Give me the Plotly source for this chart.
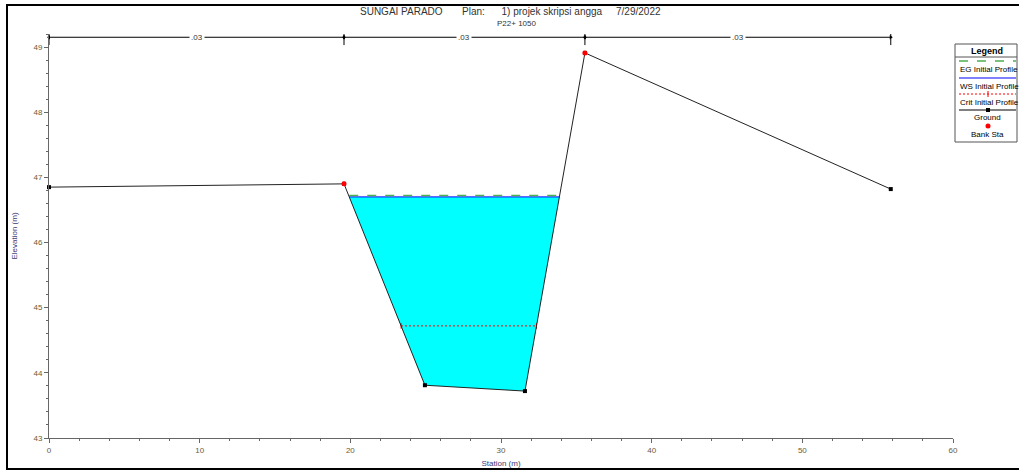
import plotly.graph_objects as go

# ---- data ----
ground_sta = [0.0, 19.58, 24.95, 31.59, 35.57, 55.87]
ground_elev = [46.85, 46.90, 43.81, 43.72, 48.91, 46.82]
bank_sta = [19.58, 35.57]
bank_elev = [46.90, 48.91]
ws_elev = 46.70
eg_elev = 46.72
crit_elev = 44.72
n_bounds = [0.0, 19.58, 35.57, 55.87]
n_values = [".03", ".03", ".03"]
x_ticks = [0, 10, 20, 30, 40, 50, 60]
y_ticks = [43, 44, 45, 46, 47, 48, 49]

W, H = 1019, 471
ML, MR, MT, MB = 49, 66, 34, 33
XR = [0, 60]
YR = [43, 49.2]


def crossings(level):
    """Intersections of a horizontal level with the ground line."""
    pts = []
    for i in range(len(ground_sta) - 1):
        x0, y0, x1, y1 = ground_sta[i], ground_elev[i], ground_sta[i + 1], ground_elev[i + 1]
        if (y0 - level) * (y1 - level) < 0:
            t = (level - y0) / (y1 - y0)
            pts.append((i, x0 + t * (x1 - x0)))
    return pts


ws_x = crossings(ws_elev)
left_i, left_x = ws_x[0]
right_i, right_x = ws_x[-1]
poly_x = [left_x] + ground_sta[left_i + 1:right_i + 1] + [right_x, left_x]
poly_y = [ws_elev] + ground_elev[left_i + 1:right_i + 1] + [ws_elev, ws_elev]

cr = crossings(crit_elev)
crit_x = [cr[0][1], cr[-1][1]]

fig = go.Figure()

# water fill
fig.add_trace(go.Scatter(x=poly_x, y=poly_y, fill="toself", fillcolor="#00FFFF",
                         mode="lines", line=dict(width=0, color="#00FFFF"),
                         hoverinfo="skip", showlegend=False))
# crit
fig.add_trace(go.Scatter(x=crit_x, y=[crit_elev, crit_elev], mode="lines+markers",
                         line=dict(color="#FF0000", width=1, dash="2px,2px"),
                         marker=dict(symbol="line-ns", size=4, color="#FF0000",
                                     line=dict(color="#FF0000", width=1)),
                         showlegend=False))
# WS
fig.add_trace(go.Scatter(x=[left_x, right_x], y=[ws_elev, ws_elev], mode="lines",
                         line=dict(color="#0000FF", width=1), showlegend=False))
# EG
fig.add_trace(go.Scatter(x=[left_x, right_x], y=[eg_elev, eg_elev], mode="lines",
                         line=dict(color="#4CAF50", width=1.5, dash="dash"), showlegend=False))
# ground
fig.add_trace(go.Scatter(x=ground_sta, y=ground_elev, mode="lines+markers",
                         line=dict(color="#222222", width=1),
                         marker=dict(symbol="square", size=4, color="black"),
                         cliponaxis=False, showlegend=False))
# bank stations
fig.add_trace(go.Scatter(x=bank_sta, y=bank_elev, mode="markers",
                         marker=dict(symbol="circle", size=5, color="#FF0000"),
                         cliponaxis=False, showlegend=False))

# Manning's n segments
n_y = 49.15
shapes = []
annotations = []
for i in range(len(n_values)):
    a, b = n_bounds[i], n_bounds[i + 1]
    fig.add_trace(go.Scatter(x=[a, b], y=[n_y, n_y], mode="lines+markers",
                             line=dict(color="black", width=1),
                             marker=dict(symbol=["triangle-left", "triangle-right"], size=4, color="black",
                                         line=dict(width=0)),
                             cliponaxis=False, showlegend=False))
    annotations.append(dict(x=(a + b) / 2, y=n_y, xref="x", yref="y", text=n_values[i],
                            xanchor="center", yanchor="middle",
                            showarrow=False, bgcolor="white", font=dict(size=8, color="#333333"),
                            borderpad=1))
for b in n_bounds:
    shapes.append(dict(type="line", xref="x", yref="y", x0=b, x1=b, y0=n_y - 0.12, y1=n_y + 0.12,
                       line=dict(color="black", width=1)))


def px(xp):
    return (xp - ML) / (W - ML - MR)


def py(yp):
    return (H - MB - yp) / (H - MT - MB)


def note(x, y, text, size=8, xanchor="center", color="black"):
    annotations.append(dict(x=px(x), y=py(y), xref="paper", yref="paper", text=text,
                            xanchor=xanchor, yanchor="middle", showarrow=False,
                            font=dict(size=size, color=color)))


# frame
shapes.append(dict(type="rect", xref="paper", yref="paper", x0=px(7), x1=px(1030), y0=py(469), y1=py(5),
                   line=dict(color="black", width=2), layer="below"))

# legend box
lx0, lx1 = 955, 1017
lc = (lx0 + lx1) / 2
shapes.append(dict(type="rect", xref="paper", yref="paper", x0=px(lx0), x1=px(lx1), y0=py(142), y1=py(44),
                   line=dict(color="#555555", width=1), fillcolor="white"))
shapes.append(dict(type="line", xref="paper", yref="paper", x0=px(lx0), x1=px(lx1), y0=py(57), y1=py(57),
                   line=dict(color="#555555", width=1)))
note(lc + 1, 50.5, "<b>Legend</b>", size=9)
leg_items = [
    (61, "EG Initial Profile", dict(color="#4CAF50", width=1.5, dash="dash"), 70),
    (78, "WS Initial Profile", dict(color="#0000FF", width=1), 86),
    (94, "Crit Initial Profile", dict(color="#FF0000", width=1, dash="2px,2px"), 102),
    (110, "Ground", dict(color="black", width=1), 118),
]
for ly, txt, ln, ty in leg_items:
    shapes.append(dict(type="line", xref="paper", yref="paper", x0=px(lx0 + 4), x1=px(lx1 - 1),
                       y0=py(ly), y1=py(ly), line=ln))
    if txt == "Ground":
        note(lc + 2, ty, txt)
    else:
        note(lx0 + 3, ty, txt, xanchor="left")
# legend markers
shapes.append(dict(type="line", xref="paper", yref="paper", x0=px(988), x1=px(988), y0=py(91), y1=py(97),
                   line=dict(color="#FF0000", width=1)))
shapes.append(dict(type="rect", xref="paper", yref="paper", x0=px(986), x1=px(990), y0=py(112), y1=py(108),
                   fillcolor="black", line=dict(color="black", width=0)))
shapes.append(dict(type="circle", xref="paper", yref="paper", x0=px(985.5), x1=px(990.5), y0=py(128.5), y1=py(123.5),
                   fillcolor="#FF0000", line=dict(color="#FF0000", width=0)))
note(lc + 2, 134, "Bank Sta")

# titles
note(511, 12, "SUNGAI PARADO&nbsp;&nbsp;&nbsp;&nbsp;&nbsp;&nbsp;&nbsp;Plan:&nbsp;&nbsp;&nbsp;&nbsp;&nbsp;&nbsp;1) projek skripsi angga&nbsp;&nbsp;&nbsp;&nbsp;&nbsp;7/29/2022",
     size=10, color="#333333")
note(516, 24, "P22+ 1050", size=8, color="#333333")

axis_common = dict(showgrid=False, zeroline=False, showline=True, linecolor="#666666", linewidth=1,
                   ticks="outside", ticklen=4, tickcolor="#666666", mirror=False, automargin=False,
                   tickfont=dict(size=8, color="#6b5a3a"))

fig.update_layout(
    width=W, height=H,
    margin=dict(l=ML, r=MR, t=MT, b=MB, autoexpand=False),
    paper_bgcolor="white", plot_bgcolor="white",
    font=dict(family="Liberation Sans, Arial, sans-serif"),
    xaxis=dict(range=XR, tickvals=x_ticks, title=dict(text="Station (m)", font=dict(size=8, color="#3a3a7a"), standoff=6),
               minor=dict(ticks="outside", ticklen=2, tickcolor="#666666", dtick=2), **axis_common),
    yaxis=dict(range=YR, tickvals=y_ticks, title=dict(text="Elevation (m)", font=dict(size=8, color="#3a3a7a"), standoff=14),
               minor=dict(ticks="outside", ticklen=2, tickcolor="#666666", dtick=0.2), **axis_common),
    shapes=shapes,
    annotations=annotations,
    showlegend=False,
)

fig.write_html("out.html", config={"displayModeBar": False, "staticPlot": True},
               post_script="document.body.style.margin='0';document.body.style.overflow='hidden';")
